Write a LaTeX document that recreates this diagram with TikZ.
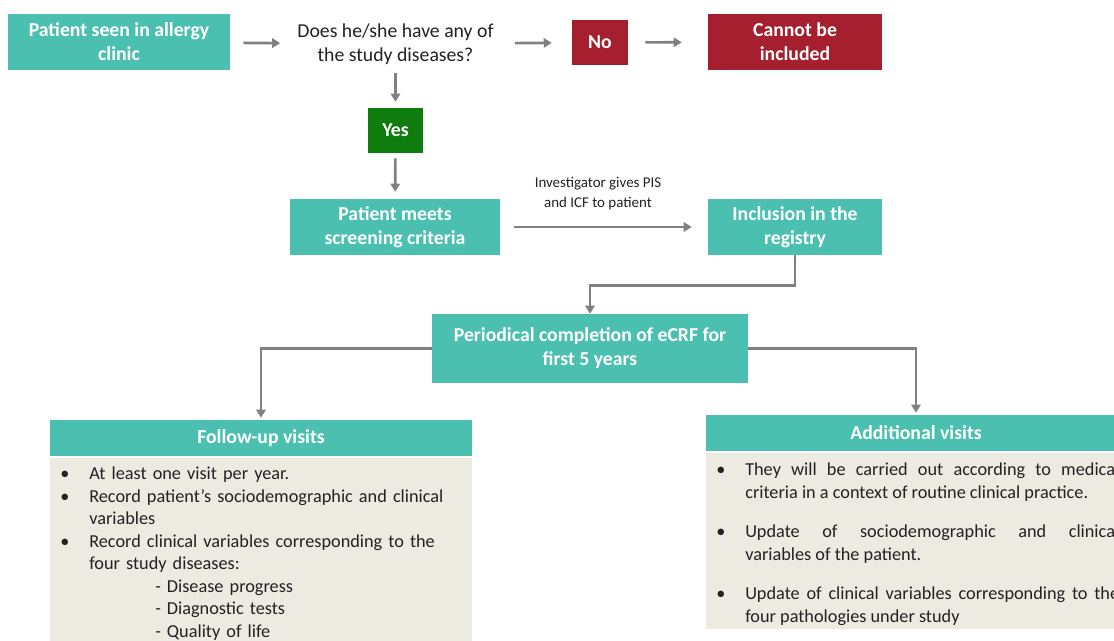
\documentclass[tikz,border=0pt]{standalone}
\usepackage{fontspec}
\setmainfont{Carlito}
\usetikzlibrary{arrows.meta,positioning}
\definecolor{tealC}{HTML}{4CC0B0}
\definecolor{redC}{HTML}{A51F2F}
\definecolor{greenC}{HTML}{0E7D0E}
\definecolor{beigeC}{HTML}{EDEAE2}
\definecolor{arrowC}{HTML}{808080}
\definecolor{inkC}{HTML}{222222}
\newcommand{\boxfont}{\fontsize{14.8}{18}\selectfont\bfseries}
\newcommand{\bodyfont}{\fontsize{13.7}{16.9}\selectfont\hyphenpenalty=10000\exhyphenpenalty=10000}
\newcommand{\bitem}[1]{\par\noindent\hangindent=29.25pt\hangafter=1\makebox[29.25pt][l]{\hspace{7.5pt}\textbullet}#1\par}
\tikzset{
  box/.style={fill=tealC,text=white,font=\boxfont,align=center,inner sep=0pt},
  redbox/.style={box,fill=redC},
  greenbox/.style={box,fill=greenC},
  arr/.style={draw=arrowC,line width=2pt,-{Triangle[length=6pt,width=7pt]}},
  line/.style={draw=arrowC,line width=2pt}
}
\begin{document}
\begin{tikzpicture}[x=0.75pt,y=-0.75pt]
  \useasboundingbox (0,0) rectangle (1114,641);
  \clip (0,0) rectangle (1114,641);

  % top row
  \node[box,minimum width=222*0.75pt,minimum height=56*0.75pt] (clinic) at (119,42) {Patient seen in allergy\\clinic};
  \node[text=inkC,font=\fontsize{14.8}{18}\selectfont,align=center,inner sep=0pt] (question) at (395.5,44) {Does he/she have any of\\the study diseases?};
  \node[redbox,minimum width=56*0.75pt,minimum height=45*0.75pt] (no) at (600,42.5) {No};
  \node[redbox,minimum width=174*0.75pt,minimum height=56*0.75pt] (cannot) at (795,42) {Cannot be\\included};
  \node[greenbox,minimum width=55*0.75pt,minimum height=45*0.75pt] (yes) at (395.5,130.5) {Yes};

  % screening and inclusion
  \node[box,minimum width=210*0.75pt,minimum height=56*0.75pt] (screen) at (395,227) {Patient meets\\screening criteria};
  \node[box,minimum width=174*0.75pt,minimum height=56*0.75pt] (incl) at (795,227) {Inclusion in the\\registry};
  \node[text=inkC,font=\fontsize{11.2}{15}\selectfont,align=center,inner sep=0pt] (pis) at (598,194) {Investigator gives PIS\\and ICF to patient};
  \node[box,minimum width=316*0.75pt,minimum height=69*0.75pt] (period) at (590,348.5) {Periodical completion of eCRF for\\first 5 years};

  % visit panels
  \fill[beigeC] (50,458) rectangle (472,660);
  \fill[beigeC] (706,453) rectangle (1126,629);
  \node[box,minimum width=422*0.75pt,minimum height=36*0.75pt] (fuhead) at (261,438) {Follow-up visits};
  \node[box,minimum width=420*0.75pt,minimum height=36*0.75pt] (adhead) at (916,433) {Additional visits};

  \node[anchor=north west,text=inkC,font=\bodyfont,text width=410*0.75pt,align=left,inner sep=0pt] (futext) at (50,457) {%
    \bitem{At least one visit per year.}
    \bitem{Record patient’s sociodemographic and clinical\newline variables}
    \bitem{Record clinical variables corresponding to the\newline four study diseases:}
    \noindent\hspace{78.75pt}- Disease progress\par
    \noindent\hspace{78.75pt}- Diagnostic tests\par
    \noindent\hspace{78.75pt}- Quality of life\par};
  \node[anchor=north west,text=inkC,font=\bodyfont,text width=413*0.75pt,align=justify,inner sep=0pt] (adtext) at (706,453) {%
    \bitem{They will be carried out according to medical\linebreak criteria in a context of routine clinical practice.}
    \vspace{12.75pt}
    \bitem{Update of sociodemographic and clinical\linebreak variables of the patient.}
    \vspace{12.75pt}
    \bitem{Update of clinical variables corresponding to the\linebreak four pathologies under study}};

  % connectors
  \draw[arr,shorten <=13*0.75pt,shorten >=17*0.75pt] (clinic) -- (question);
  \draw[arr,shorten <=21*0.75pt,shorten >=20*0.75pt] (question) -- (no);
  \draw[arr,shorten <=17*0.75pt,shorten >=26*0.75pt] (no) -- (cannot);
  \draw[arr,shorten <=8*0.75pt,shorten >=6*0.75pt] (question) -- (yes);
  \draw[arr,shorten <=5*0.75pt,shorten >=7*0.75pt] (yes) -- (screen);
  \draw[arr,shorten <=14*0.75pt,shorten >=16*0.75pt] (screen) -- (incl);
  \draw[arr] (incl.south) -- ++(0,30) -| (period.north);
  \draw[arr,shorten >=2*0.75pt] (period.west) -| (fuhead.north);
  \draw[arr,shorten >=2*0.75pt] (period.east) -| (adhead.north);
\end{tikzpicture}
\end{document}
